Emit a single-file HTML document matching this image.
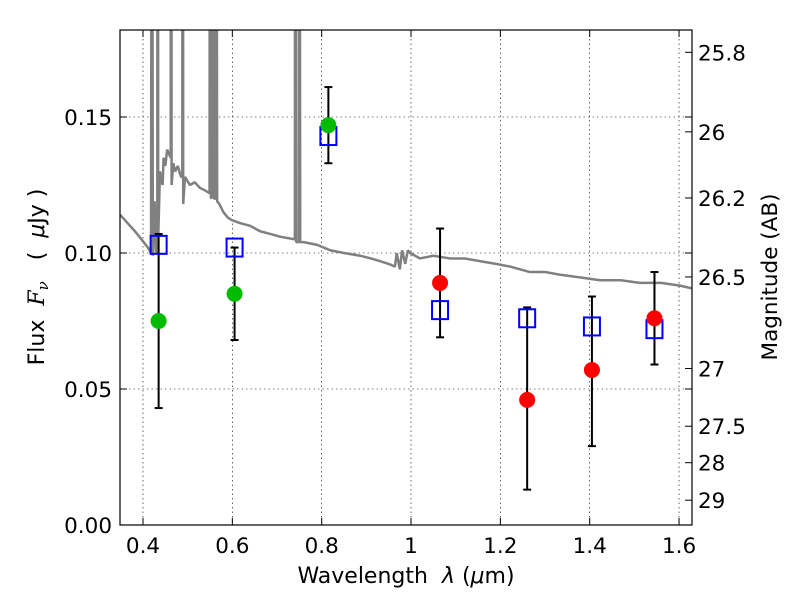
<!DOCTYPE html>
<html><head><meta charset="utf-8"><style>
body{margin:0;background:#fff}
svg{font-family:"DejaVu Sans","Liberation Sans",sans-serif}
.pre{white-space:pre}
</style></head><body>
<svg id="chart" width="800" height="600" viewBox="0 0 800 600">
<defs><clipPath id="clip"><rect x="120" y="30" width="572" height="495"/></clipPath></defs>
<rect width="800" height="600" fill="#fff"/>
<g id="grid"></g>
<g id="spec" clip-path="url(#clip)"></g>
<g id="marks"></g>
<rect x="120" y="30" width="572" height="495" fill="none" stroke="#000" stroke-width="1.2"/>
<g id="axes"></g>
<text class="pre" x="406" y="583" font-size="22" text-anchor="middle">Wavelength  <tspan font-style="italic">λ</tspan> (<tspan font-style="italic">μ</tspan>m)</text>
<text class="pre" transform="translate(44,277) rotate(-90)" font-size="22" text-anchor="middle">Flux  <tspan font-style="italic" font-family="DejaVu Serif,serif">F</tspan><tspan font-style="italic" font-size="15" dy="4" font-family="DejaVu Serif,serif">ν</tspan><tspan dy="-4">   (  </tspan><tspan font-style="italic">μ</tspan>Jy )</text>
<text transform="translate(777,277) rotate(-90)" font-size="21.5" text-anchor="middle">Magnitude (AB)</text>
</svg>
<script>
const xTicks=[0.4,0.6,0.8,1,1.2,1.4,1.6];
const xTickLabels=["0.4","0.6","0.8","1","1.2","1.4","1.6"];
const yTicks=[0,0.05,0.10,0.15];
const yTickLabels=["0.00","0.05","0.10","0.15"];
const magTicks=[25.8,26,26.2,26.5,27,27.5,28,29];
const magTickLabels=["25.8","26","26.2","26.5","27","27.5","28","29"];
const obsWl=[0.435,0.605,0.815,1.065,1.26,1.405,1.545];
const obsFlux=[0.075,0.085,0.147,0.089,0.046,0.057,0.076];
const errLow=[0.043,0.068,0.133,0.069,0.013,0.029,0.059];
const errHigh=[0.107,0.102,0.161,0.109,0.080,0.084,0.093];
const obsColor=["#00bb00","#00bb00","#00bb00","#ff0000","#ff0000","#ff0000","#ff0000"];
const modelFlux=[0.103,0.102,0.143,0.079,0.076,0.073,0.072];
const specWl=[0.349,0.382,0.411,0.418,0.4195,0.4205,0.422,0.426,0.429,0.432,0.4325,0.4335,0.434,0.438,0.444,0.446,0.450,0.454,0.462,0.4625,0.4635,0.464,0.468,0.472,0.478,0.485,0.488,0.4885,0.4895,0.490,0.494,0.505,0.516,0.527,0.539,0.549,0.5495,0.5505,0.552,0.556,0.5565,0.5575,0.559,0.563,0.5635,0.5645,0.566,0.571,0.580,0.590,0.600,0.617,0.640,0.662,0.685,0.707,0.740,0.7405,0.7415,0.743,0.749,0.7495,0.7505,0.752,0.760,0.790,0.819,0.850,0.886,0.910,0.931,0.950,0.964,0.968,0.975,0.980,0.987,0.993,0.998,1.020,1.050,1.087,1.120,1.154,1.190,1.222,1.266,1.300,1.334,1.380,1.423,1.470,1.513,1.560,1.602,1.629];
const specFlux=[0.114,0.108,0.102,0.100,0.30,0.30,0.099,0.119,0.100,0.100,0.30,0.30,0.105,0.130,0.125,0.135,0.132,0.138,0.135,0.30,0.30,0.125,0.133,0.130,0.132,0.128,0.128,0.30,0.30,0.118,0.128,0.125,0.126,0.124,0.123,0.122,0.30,0.30,0.12,0.121,0.30,0.30,0.12,0.12,0.30,0.30,0.119,0.118,0.115,0.113,0.112,0.111,0.110,0.108,0.107,0.106,0.105,0.30,0.30,0.104,0.104,0.30,0.30,0.104,0.104,0.103,0.101,0.100,0.099,0.098,0.097,0.096,0.095,0.100,0.094,0.101,0.096,0.101,0.100,0.098,0.099,0.098,0.098,0.097,0.096,0.095,0.093,0.093,0.092,0.091,0.090,0.090,0.089,0.089,0.088,0.087];
const X=v=>143+(v-0.4)*446.7;
const Y=v=>525-v*2720;
const M=m=>Y(Math.pow(10,(23.9-m)/2.5));
const NS="http://www.w3.org/2000/svg";
function mk(tag,attrs,parent,txt){const e=document.createElementNS(NS,tag);for(const k in attrs)e.setAttribute(k,attrs[k]);if(txt!==undefined)e.textContent=txt;parent.appendChild(e);return e;}
const grid=document.getElementById('grid'),axes=document.getElementById('axes'),spec=document.getElementById('spec'),marks=document.getElementById('marks');
xTicks.forEach((t,i)=>{const x=X(t);
 const g=mk('line',{x1:x,x2:x,y1:30,y2:525,stroke:'#000','stroke-width':0.6,'stroke-dasharray':'1.5,3'},grid);
 
 mk('line',{x1:x,x2:x,y1:525,y2:518,stroke:'#000'},axes);mk('line',{x1:x,x2:x,y1:30,y2:37,stroke:'#000'},axes);
 const l=mk('text',{x:x,y:553,'font-size':21.5,'text-anchor':'middle'},axes,xTickLabels[i]);
 });
yTicks.forEach((t,i)=>{const y=Y(t);
 if(t>0){const g=mk('line',{x1:120,x2:692,y1:y,y2:y,stroke:'#000','stroke-width':0.6,'stroke-dasharray':'1.5,3'},grid);
 }
 mk('line',{x1:120,x2:127,y1:y,y2:y,stroke:'#000'},axes);mk('line',{x1:685,x2:692,y1:y,y2:y,stroke:'#000'},axes);
 const l=mk('text',{x:112,y:y+8,'font-size':21.5,'text-anchor':'end'},axes,yTickLabels[i]);
 });
magTicks.forEach((m,i)=>{const y=M(m);
 mk('line',{x1:685,x2:692,y1:y,y2:y,stroke:'#000'},axes);
 const l=mk('text',{x:698,y:y+8,'font-size':21.5},axes,magTickLabels[i]);
 });
const p=mk('polyline',{points:specWl.map((w,i)=>X(w)+','+Y(specFlux[i])).join(' '),fill:'none',stroke:'#808080','stroke-width':2.5,'stroke-linejoin':'bevel'},spec);

obsWl.forEach((w,i)=>{const x=X(w);
 const e=mk('g',{},marks);
 mk('line',{x1:x,x2:x,y1:Y(errLow[i]),y2:Y(errHigh[i]),stroke:'#000','stroke-width':2},e);
 mk('line',{x1:x-4,x2:x+4,y1:Y(errLow[i]),y2:Y(errLow[i]),stroke:'#000','stroke-width':2},e);
 mk('line',{x1:x-4,x2:x+4,y1:Y(errHigh[i]),y2:Y(errHigh[i]),stroke:'#000','stroke-width':2},e);
 const s=mk('rect',{x:x-8,y:Y(modelFlux[i])-9,width:16,height:18,fill:'none',stroke:'#0000ff','stroke-width':2},marks);
 
 const c=mk('circle',{cx:x,cy:Y(obsFlux[i]),r:8,fill:obsColor[i]},marks);
 });
</script>
</body></html>
